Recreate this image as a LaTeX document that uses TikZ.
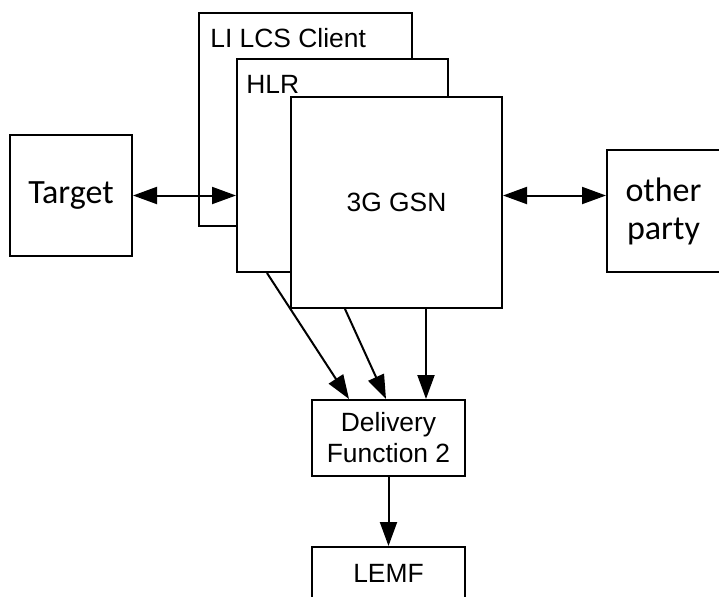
\documentclass[tikz,border=0pt]{standalone}
\usepackage{fontspec}
\setmainfont{Liberation Sans}
\newfontfamily\calibri{Carlito}
\usetikzlibrary{arrows.meta,calc}
\begin{document}
\begin{tikzpicture}[x=0.5pt,y=-0.5pt,
    box/.style={draw,line width=1pt,fill=white,inner sep=0pt,align=center,font=\fontsize{13.2}{15.5}\selectfont},
    cbox/.style={box,font=\calibri\fontsize{17}{19}\selectfont},
    tag/.style={inner sep=0pt,anchor=base west,font=\fontsize{13.2}{15.5}\selectfont},
    arr/.style={line width=1pt,-{Triangle[length=12pt,width=8.5pt]}},
    dblarr/.style={line width=1pt,{Triangle[length=12pt,width=8.5pt]}-{Triangle[length=12pt,width=8.5pt]}}]
    \useasboundingbox (0,0) rectangle (719,596);
    % stacked network elements
    \node[box,minimum width=106.5pt,minimum height=106.5pt] (li) at (305.5,119.5) {};
    \node[tag] (litext) at ($(li.north west)+(12,35)$) {LI LCS Client};
    \node[box,minimum width=105.5pt,minimum height=106.5pt] (hlr) at (342.5,165.5) {};
    \node[tag] (hlrtext) at ($(hlr.north west)+(10,35)$) {HLR};
    \node[box,minimum width=105.5pt,minimum height=105.5pt] (gsn) at (396.5,202.5) {3G GSN};
    % end points
    \node[cbox,minimum width=61pt,minimum height=60.5pt] (target) at (71,195.5) {Target};
    \node[cbox,minimum width=56.5pt,minimum height=61pt] (other) at (663.5,211) {other\\party};
    % delivery
    \node[box,minimum width=76.5pt,minimum height=38pt] (df) at (388.5,438) {Delivery\\Function 2};
    \node[box,minimum width=76.5pt,minimum height=26pt] (lemf) at (388.5,573) {LEMF};
    % connectors
    \draw[dblarr] (target.east) -- (target.east -| hlr.west);
    \draw[dblarr] (gsn.east |- target.east) -- (other.west |- target.east);
    \draw[arr] ($(hlr.south west)+(31,0)$) -- ($(df.north west)+(38,0)$);
    \draw[arr] ($(gsn.south west)+(55,0)$) -- ($(df.north west)+(75,0)$);
    \draw[arr] ($(gsn.south west)+(136,0)$) -- ($(df.north west)+(115,0)$);
    \draw[arr] (df.south) -- (lemf.north);
\end{tikzpicture}
\end{document}
